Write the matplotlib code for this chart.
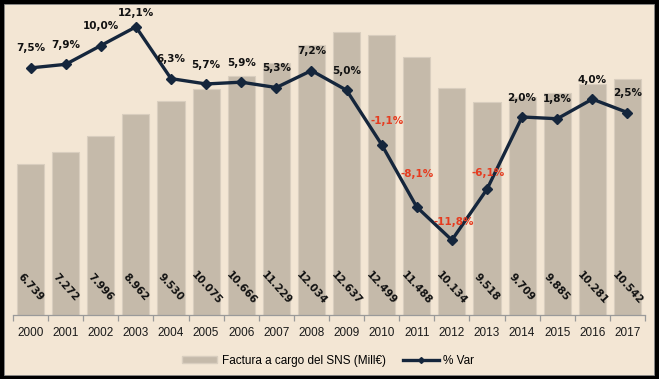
import matplotlib
matplotlib.use("Agg")
import matplotlib.pyplot as plt
from matplotlib.patches import Rectangle
from matplotlib.lines import Line2D
from matplotlib.patches import Patch
import matplotlib.transforms as mtransforms

years = ["2000", "2001", "2002", "2003", "2004", "2005", "2006", "2007", "2008",
         "2009", "2010", "2011", "2012", "2013", "2014", "2015", "2016", "2017"]
factura = [6739, 7272, 7996, 8962, 9530, 10075, 10666, 11229, 12034,
           12637, 12499, 11488, 10134, 9518, 9709, 9885, 10281, 10542]
var_pct = [7.5, 7.9, 10.0, 12.1, 6.3, 5.7, 5.9, 5.3, 7.2,
           5.0, -1.1, -8.1, -11.8, -6.1, 2.0, 1.8, 4.0, 2.5]

BG = "#F3E6D4"
BAR = "#C5BAAA"
BAR_EDGE = "#D9CEBF"
NAVY = "#15263C"
RED = "#E63B1F"

W, H = 659, 379
fig = plt.figure(figsize=(W / 100, H / 100), dpi=100)
fig.patch.set_facecolor("black")
fig.add_artist(Rectangle((4 / W, 4 / H), (W - 9) / W, (H - 8) / H,
                         transform=fig.transFigure, facecolor=BG,
                         edgecolor="#8A8A8A", linewidth=0.6, zorder=0))

ax = fig.add_axes([13 / W, 64 / H, 632 / W, 314 / H])
ax.patch.set_alpha(0)
x = list(range(len(years)))
ax.bar(x, factura, width=0.77, color=BAR, edgecolor=BAR_EDGE, linewidth=0.8, zorder=2)
ax.set_xlim(-0.5, len(years) - 0.5)
ax.set_ylim(0, 14000)
ax.set_yticks([])
for s in ["top", "right", "left"]:
    ax.spines[s].set_visible(False)
ax.spines["bottom"].set_color("#9A9A9A")
ax.spines["bottom"].set_linewidth(0.9)
ax.set_xticks([i - 0.5 for i in range(len(years) + 1)])
ax.set_xticklabels([])
ax.tick_params(axis="x", length=4, color="#9A9A9A", width=0.9)
ax.set_xticks(x, minor=True)
ax.set_xticklabels(years, minor=True, fontsize=8.5, family="Liberation Sans",
                   color="#1a1a1a")
ax.tick_params(axis="x", which="minor", length=0, pad=9)

trans = mtransforms.blended_transform_factory(ax.transData, ax.transAxes)
for xi, v in zip(x, factura):
    lbl = f"{v:,}".replace(",", ".")
    ax.text(xi, 0.087, lbl, transform=trans, rotation=-48, rotation_mode="anchor",
            ha="center", va="center", fontsize=7.5, fontweight="bold",
            family="DejaVu Sans", color="#111111", zorder=3)

ax2 = ax.twinx()
ax2.set_ylim(-20.2, 15)
ax2.set_yticks([])
for s in ["top", "right", "left", "bottom"]:
    ax2.spines[s].set_visible(False)
ax2.plot(x, var_pct, color=NAVY, linewidth=2.4, marker="D", markersize=5.5,
         zorder=4)

offsets = {3: (0, 10), 10: (4, 17), 11: (0, 24), 12: (1, 13), 13: (1, 12)}
for xi, v in zip(x, var_pct):
    lbl = f"{v:.1f}%".replace(".", ",")
    dx, dy = offsets.get(xi, (0, 14))
    ax2.annotate(lbl, (xi, v), xytext=(dx, dy), textcoords="offset points",
                 ha="center", va="center", fontsize=7.5, fontweight="bold",
                 family="DejaVu Sans", color=RED if v < 0 else "#111111",
                 zorder=5)

handles = [Patch(facecolor=BAR, edgecolor=BAR_EDGE),
           Line2D([0], [0], color=NAVY, linewidth=2.4, marker="D", markersize=3)]
leg = fig.legend(handles, ["Factura a cargo del SNS (Mill€)", "% Var"],
                 loc="center", bbox_to_anchor=(328 / W, 1 - 361 / H), ncol=2,
                 frameon=False, prop={"family": "Liberation Sans", "size": 8.5},
                 handlelength=3.0, handleheight=0.5, columnspacing=1.5,
                 handletextpad=0.4)

fig.savefig("out.png", dpi=100, facecolor=fig.get_facecolor())
